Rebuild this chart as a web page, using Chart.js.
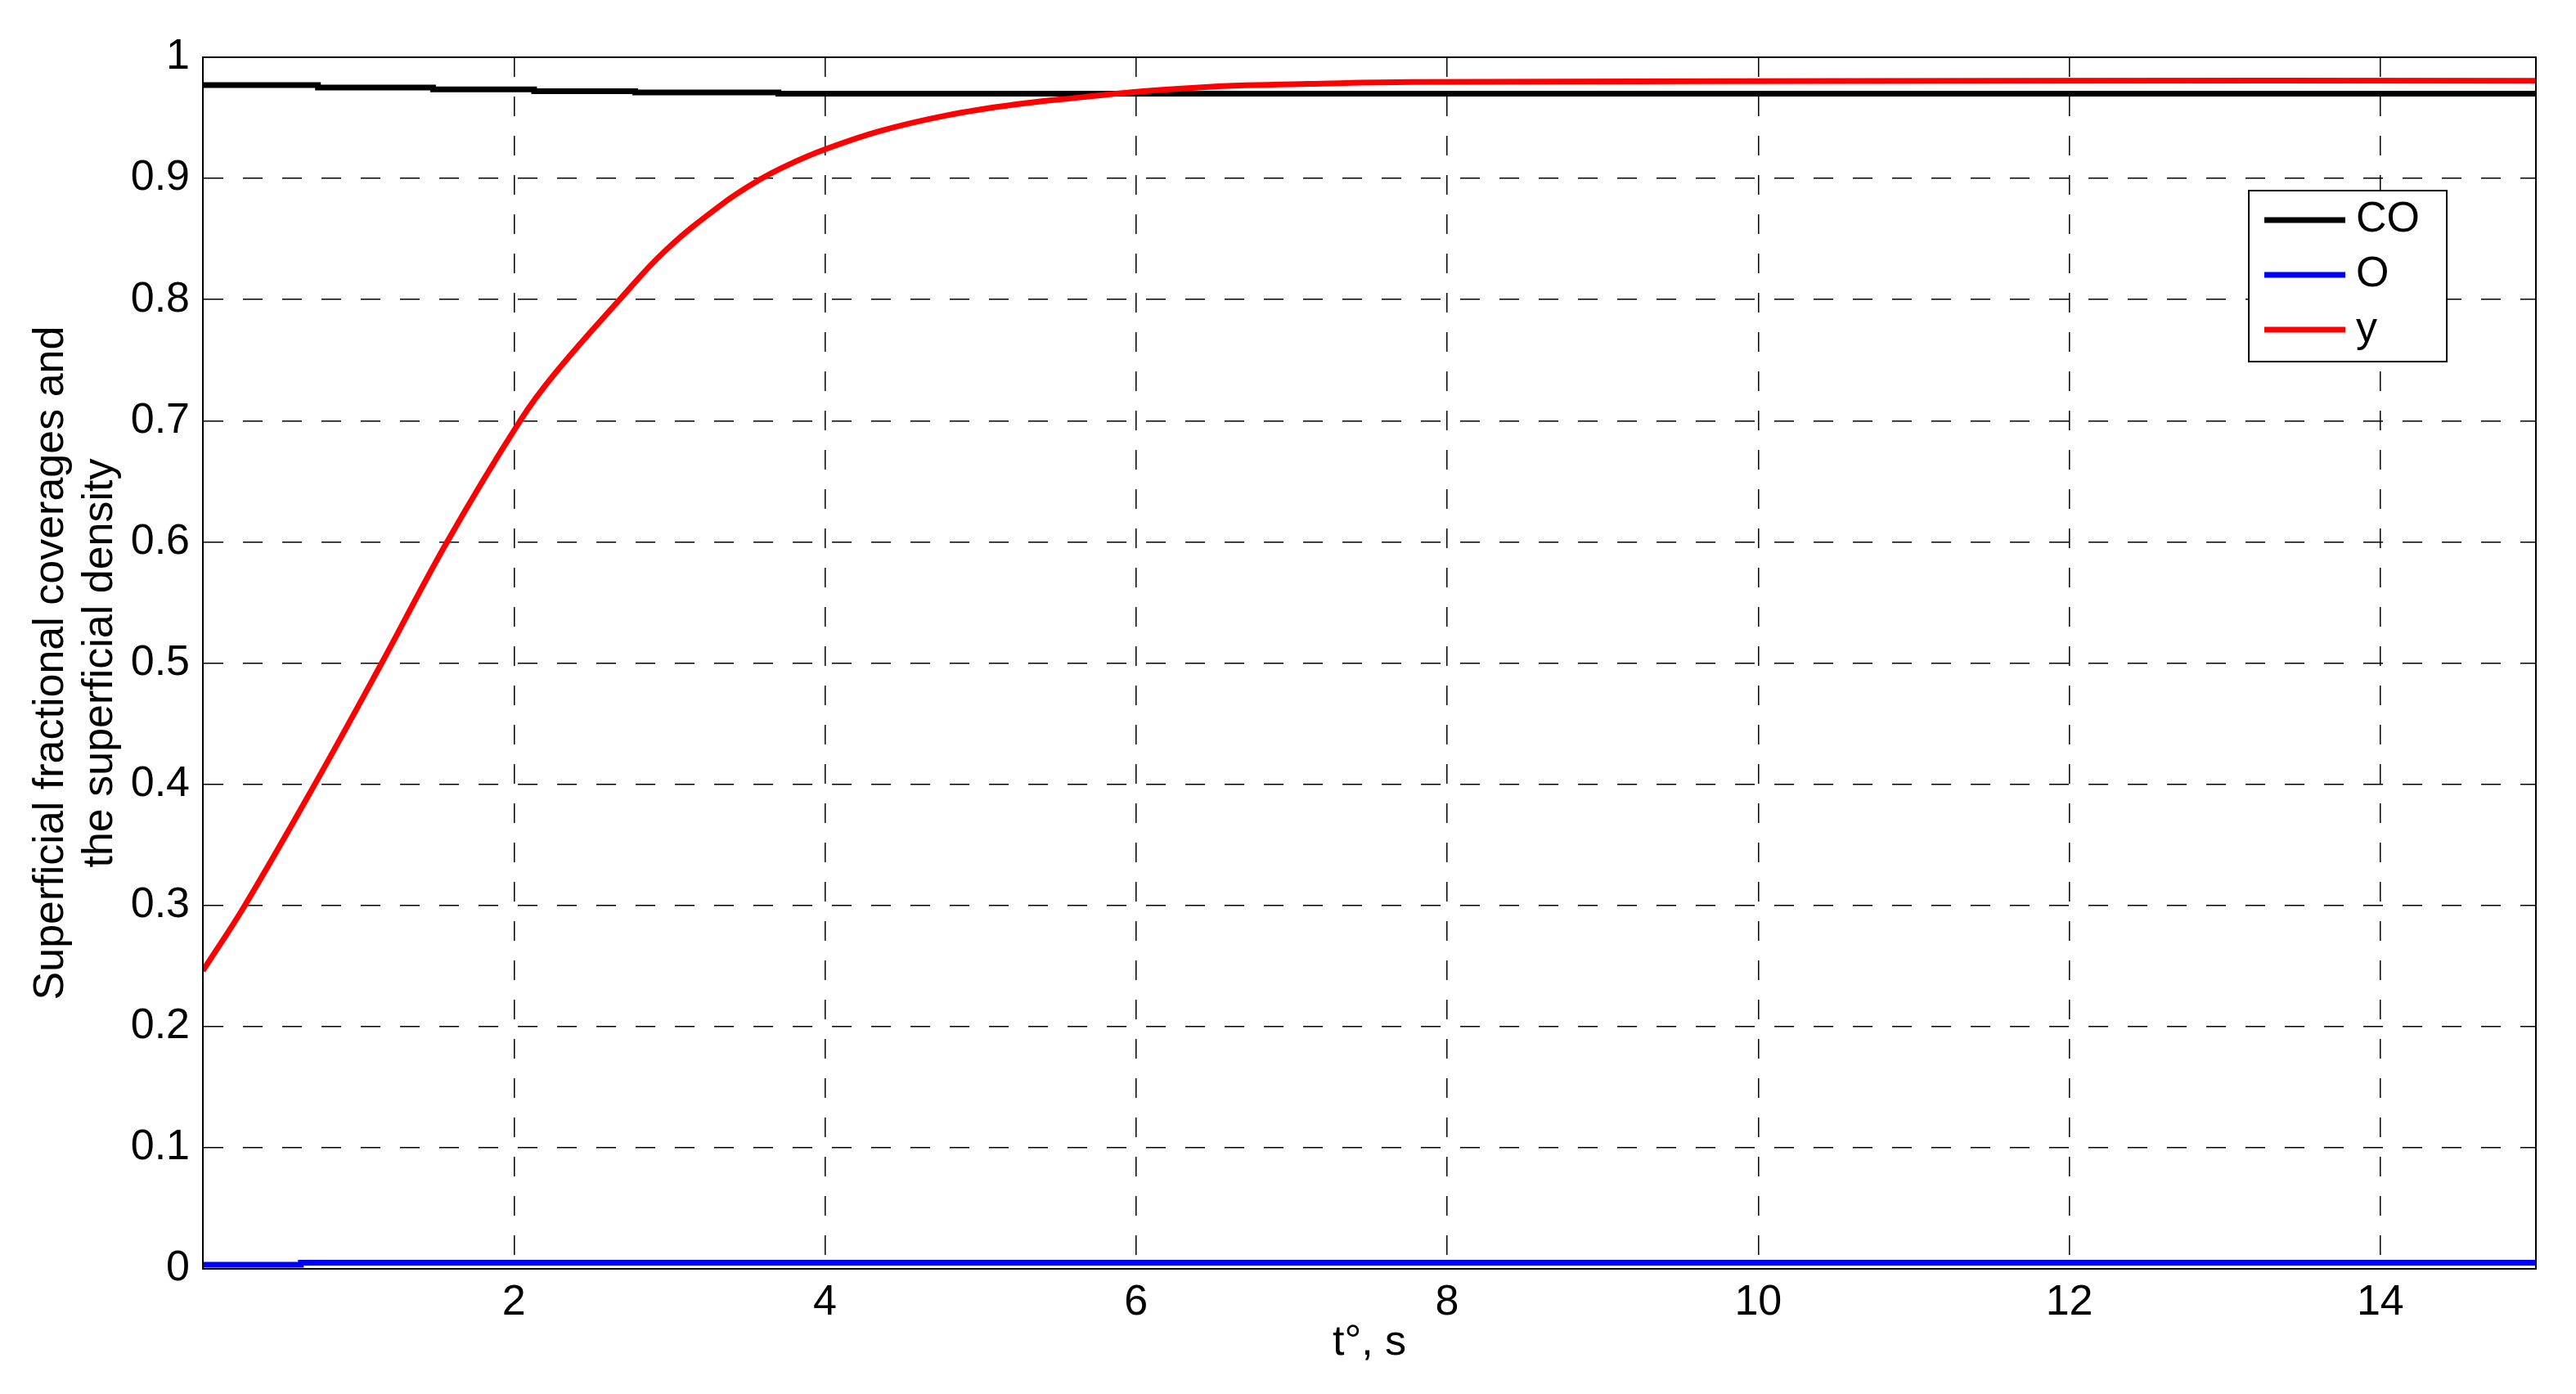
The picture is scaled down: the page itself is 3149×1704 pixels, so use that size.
<!DOCTYPE html>
<html>
<head>
<meta charset="utf-8">
<script src="https://cdn.jsdelivr.net/npm/chart.js@4.4.0/dist/chart.umd.min.js"></script>
<style>
  html, body { margin: 0; padding: 0; background: #fff; }
  #myChart { display: block; }
</style>
</head>
<body>
<canvas id="myChart" width="3149" height="1704" style="width:3149px;height:1704px"></canvas>
<script>
// valores (tempo em s)
const nomes = ['CO', 'O', 'y'];
const cores = ['#000000', '#0000ff', '#ff0000'];

const tempoCO = [0, 0.74, 1.48, 2.13, 2.78, 3.7, 6.95, 15];
const valorCO = [0.979, 0.977, 0.975, 0.9735, 0.972, 0.971, 0.970, 0.970];

const tempoO = [0, 0.63, 4.19, 15];
const valorO = [0.0023, 0.0034, 0.005, 0.005];

const tempoY = [0, 0.27, 0.72, 1.15, 1.57, 2.04, 2.27, 2.68, 2.97, 3.33, 3.58, 3.76, 4.0, 4.35, 4.78, 5.22, 5.65, 6.0, 6.4, 6.7, 7.1, 7.77, 11.58, 15];
const valorY = [0.246, 0.3, 0.4, 0.5, 0.6, 0.7, 0.74, 0.8, 0.84, 0.878, 0.899, 0.911, 0.924, 0.939, 0.952, 0.961, 0.967, 0.9715, 0.975, 0.9768, 0.978, 0.9795, 0.9806, 0.9806];

const tituloX = 't\u00b0, s';
const tituloY = ['Superficial fractional coverages and', 'the superficial density'];

const fonte = '"Liberation Sans", Arial, sans-serif';

function pontos(t, v) {
  return t.map((x, i) => ({ x: x, y: v[i] }));
}

// caixa em volta do grafico + legenda com moldura
const moldura = {
  id: 'moldura',
  afterDraw(chart) {
    const ctx = chart.ctx;
    const a = chart.chartArea;
    ctx.save();
    ctx.strokeStyle = '#000';
    ctx.lineWidth = 2;
    ctx.strokeRect(a.left, a.top, a.right - a.left, a.bottom - a.top);

    // legenda
    const bx = a.right - 351, by = a.top + 163, bw = 242, bh = 209;
    ctx.fillStyle = '#fff';
    ctx.fillRect(bx, by, bw, bh);
    ctx.strokeRect(bx, by, bw, bh);
    ctx.font = '52px ' + fonte;
    ctx.textBaseline = 'middle';
    ctx.textAlign = 'left';
    chart.data.datasets.forEach((ds, i) => {
      const ly = by + 36 + i * 67;
      ctx.strokeStyle = ds.borderColor;
      ctx.lineWidth = 7;
      ctx.beginPath();
      ctx.moveTo(bx + 19, ly);
      ctx.lineTo(bx + 118, ly);
      ctx.stroke();
      ctx.fillStyle = '#000';
      ctx.fillText(ds.label, bx + 131, ly);
    });
    ctx.restore();
  }
};

const canvas = document.getElementById('myChart');
const ctx = canvas.getContext('2d');

const chart = new Chart(ctx, {
  type: 'line',
  data: {
    datasets: [{
      label: nomes[0],
      data: pontos(tempoCO, valorCO),
      borderColor: cores[0],
      borderWidth: 7,
      stepped: 'after',
      pointRadius: 0,
      order: 3
    }, {
      label: nomes[1],
      data: pontos(tempoO, valorO),
      borderColor: cores[1],
      borderWidth: 7,
      stepped: 'after',
      pointRadius: 0,
      order: 2
    }, {
      label: nomes[2],
      data: pontos(tempoY, valorY),
      borderColor: cores[2],
      borderWidth: 7,
      tension: 0.4,
      pointRadius: 0,
      order: 1
    }]
  },
  options: {
    responsive: false,
    devicePixelRatio: 1,
    animation: false,
    layout: { padding: { top: 70, right: 49, left: 0, bottom: 0 } },
    plugins: {
      legend: { display: false },
      tooltip: { enabled: false }
    },
    scales: {
      x: {
        type: 'linear',
        min: 0,
        max: 15,
        afterFit: function (s) { s.height = 153; },
        ticks: {
          stepSize: 2,
          includeBounds: false,
          maxRotation: 0,
          padding: 10,
          color: '#000',
          font: { family: fonte, size: 52 },
          callback: v => (v === 0 ? '' : String(v))
        },
        grid: { color: '#000', lineWidth: 1.5, drawTicks: false },
        border: { display: true, color: '#000', width: 2, dash: [24, 24] },
        title: {
          display: true,
          text: tituloX,
          color: '#000',
          font: { family: fonte, size: 52 },
          padding: { top: 0, bottom: 31 }
        }
      },
      y: {
        min: 0,
        max: 1,
        afterFit: function (s) { s.width = 248; },
        ticks: {
          stepSize: 0.1,
          padding: 16,
          color: '#000',
          font: { family: fonte, size: 52 },
          callback: v => String(Math.round(v * 10) / 10)
        },
        grid: { color: '#000', lineWidth: 1.5, drawTicks: false },
        border: { display: true, color: '#000', width: 2, dash: [24, 24] },
        title: {
          display: true,
          text: tituloY,
          color: '#000',
          font: { family: fonte, size: 52, lineHeight: 1.15 },
          padding: { top: 33, bottom: 0 }
        }
      }
    }
  },
  plugins: [moldura]
});
</script>
</body>
</html>
